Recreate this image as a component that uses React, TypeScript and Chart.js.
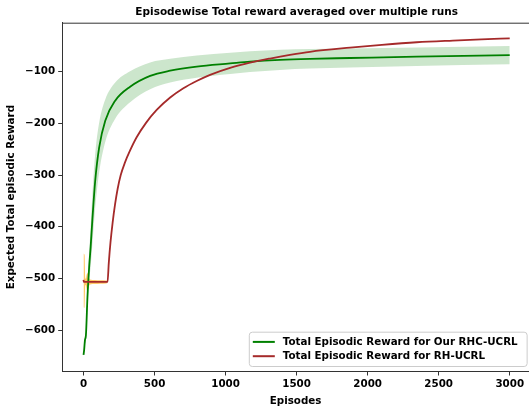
import React, { useEffect, useRef } from "react";
import { Chart, registerables } from "chart.js";

Chart.register(...registerables);

// ---- data ----
const greenEpisodes = [0, 4, 10, 17, 28, 40, 50, 62, 82, 110, 153, 223, 328, 469, 610, 797, 1032, 1172, 1383, 1594, 1876, 2345, 3000];
const greenMean = [-648, -640, -620, -610, -535, -477, -440, -388, -312, -247, -195, -156, -129, -108, -98, -90, -84, -80.5, -77, -75, -73.5, -71, -68];
const greenStd = [3, 5, 8, 10, 18, 28, 38, 48, 52, 48, 41, 35, 30, 26, 23, 21.5, 20.5, 20, 19.5, 19, 18.5, 18, 17.7];

const redEpisodes = [0, 3, 169, 178, 190, 205, 222, 240, 262, 290, 327, 374, 440, 515, 610, 703, 800, 891, 1032, 1172, 1313, 1453, 1594, 1876, 2100, 2345, 2600, 2800, 3000];
const redMean = [-503, -507, -507, -470, -430, -392, -357, -327, -300, -277, -253, -227, -199, -174, -150, -132, -117.5, -106, -92.5, -82.5, -74.5, -67.5, -61.5, -53.5, -48, -43, -39.7, -37.5, -35.5];

const redBandEpisodes = [0, 4, 8, 12, 16, 22, 28, 34, 45, 80, 120, 160, 169];
const redBandCenter = [-504, -505, -506, -507, -507, -507, -507, -507, -507, -507, -507, -507, -507];
const redBandStd = [52, 52, 50, 8, 6, 14, 18, 12, 5, 4, 3.5, 3, 2];

const xTicks = [0, 500, 1000, 1500, 2000, 2500, 3000];
const yTicks = [-600, -500, -400, -300, -200, -100];

const titleText = "Episodewise Total reward averaged over multiple runs";
const xLabel = "Episodes";
const yLabel = "Expected Total episodic Reward";
const legendLabels = ["Total Episodic Reward for Our RHC-UCRL", "Total Episodic Reward for RH-UCRL"];

const GREEN = "#008000";
const BROWN = "#a52a2a";
const FONT = "'DejaVu Sans', sans-serif";

const fmt = (v: number) => String(v).replace("-", "\u2212");

export default function App() {
  const ref = useRef<HTMLCanvasElement | null>(null);

  useEffect(() => {
    if (!ref.current) return;

    const overlay = {
      id: "overlay",
      afterDraw(chart: any) {
        const { ctx, chartArea } = chart;
        const xs = chart.scales.x;
        const fullRight = xs.getPixelForValue(3150);
        ctx.save();
        // top spine
        ctx.strokeStyle = "#333";
        ctx.lineWidth = 1;
        ctx.beginPath();
        ctx.moveTo(chartArea.left, chartArea.top + 0.5);
        ctx.lineTo(chartArea.right, chartArea.top + 0.5);
        ctx.stroke();
        // title
        ctx.font = `bold 10.5px ${FONT}`;
        ctx.fillStyle = "#000";
        ctx.textAlign = "center";
        ctx.textBaseline = "middle";
        ctx.fillText(titleText, (chartArea.left + fullRight) / 2, 12);
        // legend
        ctx.font = `bold 10.3px ${FONT}`;
        const tw = Math.max(...legendLabels.map((t) => ctx.measureText(t).width));
        const boxRight = fullRight - 4.4;
        const boxBottom = chartArea.bottom - 5.5;
        const boxH = 34.3;
        const boxW = 34 + tw + 9;
        const boxLeft = boxRight - boxW;
        const boxTop = boxBottom - boxH;
        ctx.beginPath();
        (ctx as any).roundRect(boxLeft + 0.5, boxTop + 0.5, boxW, boxH, 3);
        ctx.fillStyle = "rgba(255,255,255,0.8)";
        ctx.fill();
        ctx.strokeStyle = "#cccccc";
        ctx.stroke();
        const colors = [GREEN, BROWN];
        legendLabels.forEach((t, i) => {
          const y = boxTop + 10.2 + i * 14.3;
          ctx.strokeStyle = colors[i];
          ctx.lineWidth = 2;
          ctx.beginPath();
          ctx.moveTo(boxLeft + 4, y);
          ctx.lineTo(boxLeft + 26, y);
          ctx.stroke();
          ctx.fillStyle = "#000";
          ctx.textAlign = "left";
          ctx.textBaseline = "middle";
          ctx.fillText(t, boxLeft + 34, y);
        });
        ctx.restore();
      },
    };

    const greenLine = greenEpisodes.map((x, i) => ({ x, y: greenMean[i] }));
    const greenUpper = greenEpisodes.map((x, i) => ({ x, y: greenMean[i] + greenStd[i] }));
    const greenLower = greenEpisodes.map((x, i) => ({ x, y: greenMean[i] - greenStd[i] }));
    const redLine = redEpisodes.map((x, i) => ({ x, y: redMean[i] }));
    const redUpper = redBandEpisodes.map((x, i) => ({ x, y: redBandCenter[i] + redBandStd[i] }));
    const redLower = redBandEpisodes.map((x, i) => ({ x, y: redBandCenter[i] - redBandStd[i] }));

    const common = { pointRadius: 0, cubicInterpolationMode: "monotone" as const };
    const tickFont = { family: FONT, size: 10.3, weight: "bold" as const };

    const chart = new Chart(ref.current, {
      type: "line",
      data: {
        datasets: [
          { ...common, label: "red", data: redLine, borderColor: BROWN, borderWidth: 1.8, fill: false, order: 0 },
          { ...common, label: "green", data: greenLine, borderColor: GREEN, borderWidth: 1.8, fill: false, order: 0 },
          { ...common, label: "gU", data: greenUpper, borderColor: "rgba(0,0,0,0)", borderWidth: 0, fill: "+1", backgroundColor: "rgba(0,128,0,0.2)", order: 2 },
          { ...common, label: "gL", data: greenLower, borderColor: "rgba(0,0,0,0)", borderWidth: 0, fill: false, order: 2 },
          { ...common, label: "oU", data: redUpper, borderColor: "rgba(0,0,0,0)", borderWidth: 0, fill: "+1", backgroundColor: "rgba(255,165,0,0.6)", order: 1 },
          { ...common, label: "oL", data: redLower, borderColor: "rgba(0,0,0,0)", borderWidth: 0, fill: false, order: 1 },
        ],
      },
      options: {
        animation: false,
        responsive: false,
        devicePixelRatio: 1,
        events: [],
        layout: { padding: { top: 22.7, left: 0, right: 0, bottom: 0 } },
        plugins: {
          legend: { display: false },
          tooltip: { enabled: false },
          title: { display: false },
        },
        scales: {
          x: {
            type: "linear",
            min: -150,
            max: 3135.7,
            afterFit: (s: any) => {
              s.height = 37.5;
            },
            afterBuildTicks: (s: any) => {
              s.ticks = xTicks.map((v) => ({ value: v }));
            },
            grid: { display: true, drawOnChartArea: false, drawTicks: true, tickLength: 4, tickWidth: 1, tickColor: "#333" },
            border: { display: true, color: "#333", width: 1 },
            ticks: { font: tickFont, color: "#000", padding: 3, maxRotation: 0, autoSkip: false, callback: (v: any) => fmt(v) },
            title: { display: true, text: xLabel, font: tickFont, color: "#000", padding: { top: 0, bottom: 1.5 } },
          },
          y: {
            type: "linear",
            min: -680.3,
            max: -5.15,
            afterFit: (s: any) => {
              s.width = 62.2;
            },
            afterBuildTicks: (s: any) => {
              s.ticks = yTicks.map((v) => ({ value: v }));
            },
            grid: { display: true, drawOnChartArea: false, drawTicks: true, tickLength: 4, tickWidth: 1, tickColor: "#333" },
            border: { display: true, color: "#333", width: 1 },
            ticks: { font: tickFont, color: "#000", padding: 3, autoSkip: false, callback: (v: any) => fmt(v) },
            title: { display: true, text: yLabel, font: tickFont, color: "#000", padding: { top: 5, bottom: 0 } },
          },
        },
      },
      plugins: [overlay],
    });

    return () => chart.destroy();
  }, []);

  return (
    <div style={{ position: "fixed", left: 0, top: 0, width: 529, height: 409, overflow: "hidden", background: "#fff" }}>
      <canvas ref={ref} width={529} height={409} style={{ display: "block", width: 529, height: 409 }} />
    </div>
  );
}
